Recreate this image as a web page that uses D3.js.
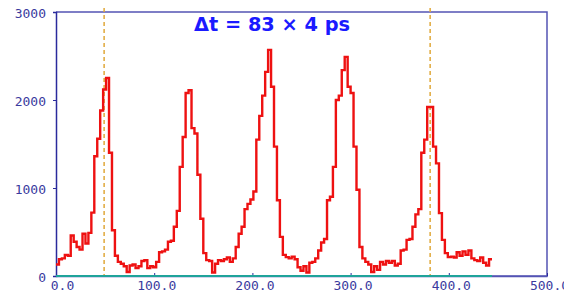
<!DOCTYPE html>
<html>
<head>
<meta charset="utf-8">
<script src="https://cdn.jsdelivr.net/npm/d3@7"></script>
<style>
  html, body { margin: 0; padding: 0; background: #fff; }
</style>
</head>
<body>
<div class="chart"></div>
<script>
// histogram, one count per bin of width 3, starting at channel 0
const binWidth = 3;
const counts = [
  130, 190, 200, 240, 230, 460, 390, 330, 300, 480, 370, 490,
  720, 1360, 1560, 1880, 2120, 2250, 1400, 520, 230, 160, 140, 110,
  45, 120, 130, 90, 110, 170, 180, 90, 110, 100, 160, 270,
  280, 300, 390, 400, 560, 740, 1240, 1580, 2080, 2110, 1680, 1620,
  1150, 650, 260, 180, 170, 40, 140, 180, 170, 190, 210, 160,
  200, 330, 480, 560, 760, 820, 870, 960, 1550, 1820, 2050, 2320,
  2570, 2150, 1470, 860, 445, 240, 215, 200, 220, 190, 100, 60,
  110, 40, 150, 160, 200, 290, 380, 420, 860, 900, 1240, 2000,
  2050, 2340, 2490, 2150, 2080, 1470, 980, 330, 200, 160, 130, 45,
  110, 70, 160, 130, 170, 150, 170, 120, 140, 290, 300, 410,
  420, 560, 700, 760, 1400, 1550, 1920, 1920, 1470, 1280, 715, 410,
  260, 215, 220, 210, 270, 230, 280, 240, 290, 200, 180, 170,
  210, 150, 120, 190
];
const markers = [49, 381];
const xTicks = [0, 100, 200, 300, 400, 500];
const yTicks = [0, 1000, 2000, 3000];
const title = "\u0394t = 83 \u00d7 4 ps";

const WIDTH = 564, HEIGHT = 296;
const margin = {left: 56, right: 17, top: 12, bottom: 20};

const x = d3.scaleLinear().domain([0, 500]).range([margin.left, WIDTH - margin.right]);
const y = d3.scaleLinear().domain([0, 3000]).range([HEIGHT - margin.bottom, margin.top]);

const svg = d3.select('.chart').append('svg')
  .attr('width', WIDTH).attr('height', HEIGHT)
  .style('display', 'block');

const frame = '#5454b4', axisCol = '#2a2a9c', labelCol = '#3a3a9e';
const labelFont = '"DejaVu Sans Mono", monospace';

// frame top and right
svg.append('path')
  .attr('d', `M${x(0)},${y(3000)}H${x(500)}V${y(0)}H${x(0)}`)
  .attr('fill', 'none').attr('stroke', frame).attr('stroke-width', 1.5);

// y axis
const yAxis = svg.append('g')
  .attr('transform', `translate(${x(0)},0)`)
  .call(d3.axisLeft(y).tickValues(yTicks).tickSize(3).tickPadding(7).tickFormat(d3.format('d')));
yAxis.select('.domain').attr('stroke', axisCol).attr('stroke-width', 1.5);
yAxis.selectAll('line').attr('stroke', axisCol);
yAxis.selectAll('text')
  .attr('fill', labelCol).attr('font-family', labelFont).attr('font-size', 13).attr('dy', '0.42em');

// x axis
const xAxis = svg.append('g')
  .attr('transform', `translate(0,${y(0)})`)
  .call(d3.axisBottom(x).tickValues(xTicks).tickSizeInner(-3).tickSizeOuter(0).tickPadding(7)
    .tickFormat(d3.format('.1f')));
xAxis.select('.domain').attr('stroke', frame).attr('stroke-width', 1.5);
xAxis.selectAll('line').attr('stroke', axisCol);
xAxis.selectAll('text')
  .attr('fill', labelCol).attr('font-family', labelFont).attr('font-size', 13)
  .attr('dx', d => d === 0 ? 6 : 2).attr('dy', '0.55em');

// dashed markers
svg.selectAll('line.marker')
  .data(markers)
  .enter().append('line')
  .attr('class', 'marker')
  .attr('x1', d => x(d)).attr('x2', d => x(d))
  .attr('y1', y(3000) - 4).attr('y2', y(0))
  .attr('stroke', '#e0a83a').attr('stroke-width', 1.5).attr('stroke-dasharray', '4,3');

// zero level
const last = counts.length * binWidth;
svg.append('line')
  .attr('x1', x(0)).attr('x2', x(last))
  .attr('y1', y(0)).attr('y2', y(0))
  .attr('stroke', '#1fa39a').attr('stroke-width', 2);

// histogram step line
const pts = counts.map((c, i) => [i * binWidth, c]);
pts.push([last, counts[counts.length - 1]]);
const line = d3.line()
  .x(d => x(d[0]))
  .y(d => y(d[1]))
  .curve(d3.curveStepAfter);
svg.append('path')
  .datum(pts)
  .attr('d', line)
  .attr('fill', 'none')
  .attr('stroke', '#ee1111')
  .attr('stroke-width', 2.4)
  .attr('stroke-linejoin', 'miter');

// title
svg.append('text')
  .attr('x', 194).attr('y', 31)
  .attr('fill', '#1a1aff')
  .attr('font-family', '"DejaVu Sans", sans-serif')
  .attr('font-weight', 'bold')
  .attr('font-size', 19)
  .attr('textLength', 156)
  .attr('lengthAdjust', 'spacingAndGlyphs')
  .text(title);
</script>
</body>
</html>
